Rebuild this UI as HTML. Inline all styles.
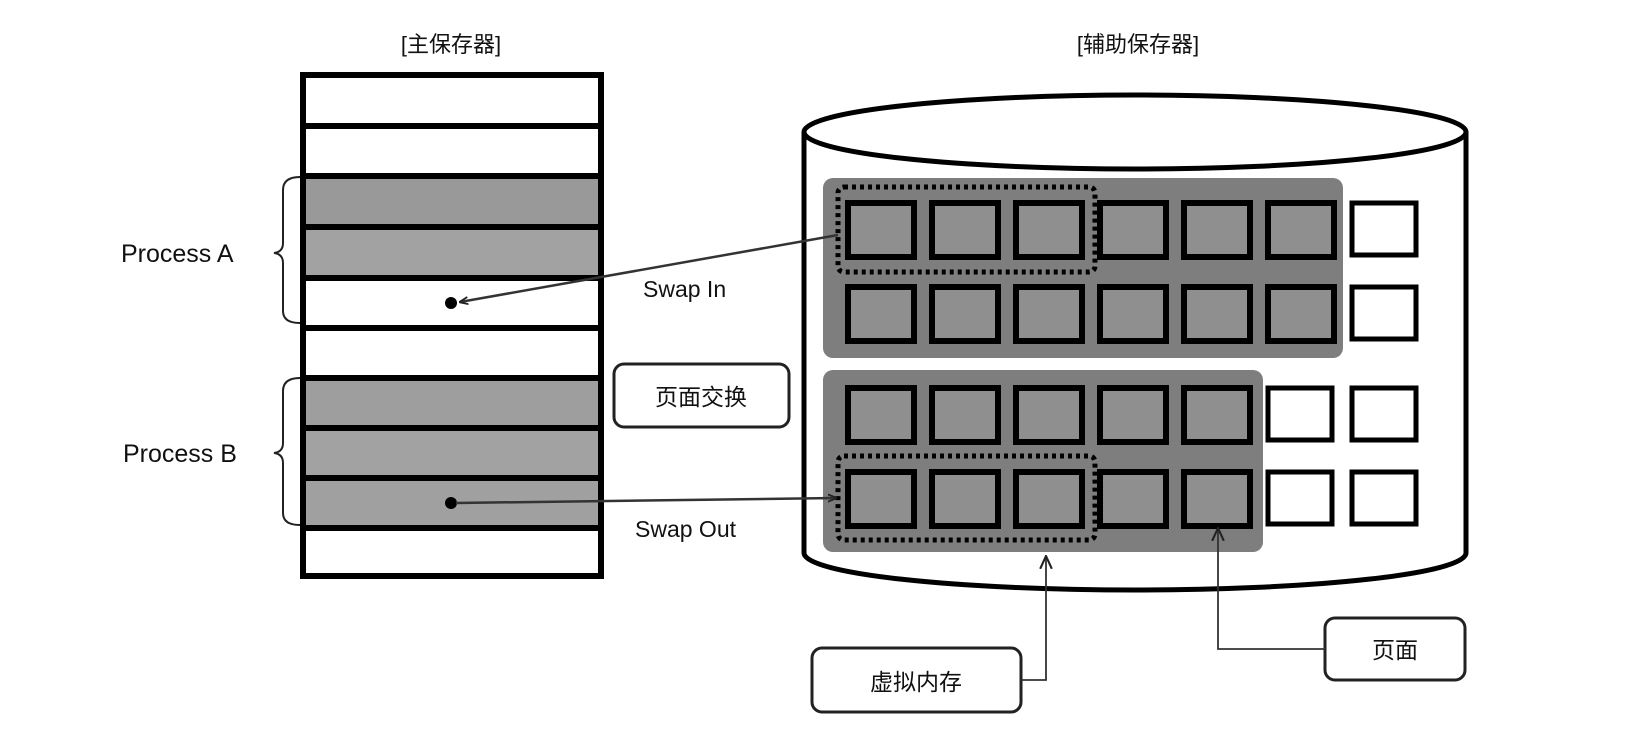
<!DOCTYPE html>
<html><head><meta charset="utf-8"><style>
html,body{margin:0;padding:0;background:#fff;}
svg{display:block;}
text{font-family:"Liberation Sans","Noto Sans CJK SC",sans-serif;fill:#111;}
</style></head><body>
<svg width="1644" height="736" viewBox="0 0 1644 736" xmlns="http://www.w3.org/2000/svg">
<defs>
<marker id="ah" viewBox="0 0 10 10" refX="9" refY="5" markerWidth="9" markerHeight="9" orient="auto" markerUnits="userSpaceOnUse">
<path d="M0,1 L10,5 L0,9" fill="none" stroke="#222" stroke-width="2"/>
</marker>
<marker id="oh" viewBox="0 0 12 12" refX="11" refY="6" markerWidth="14" markerHeight="14" orient="auto" markerUnits="userSpaceOnUse">
<path d="M0,1 L11,6 L0,11" fill="none" stroke="#222" stroke-width="1.8"/>
</marker>
</defs>

<text x="451" y="52" font-size="22" text-anchor="middle">[主保存器]</text>
<text x="1138" y="52" font-size="22" text-anchor="middle">[辅助保存器]</text>

<!-- main memory stack -->
<g stroke="#000" stroke-width="6">
<rect x="303" y="75" width="298" height="51" fill="#fff"/>
<rect x="303" y="126" width="298" height="50" fill="#fff"/>
<rect x="303" y="176" width="298" height="51" fill="#999"/>
<rect x="303" y="227" width="298" height="51" fill="#a2a2a2"/>
<rect x="303" y="278" width="298" height="50" fill="#fff"/>
<rect x="303" y="328" width="298" height="50" fill="#fff"/>
<rect x="303" y="378" width="298" height="50" fill="#9e9e9e"/>
<rect x="303" y="428" width="298" height="50" fill="#a2a2a2"/>
<rect x="303" y="478" width="298" height="50" fill="#a0a0a0"/>
<rect x="303" y="528" width="298" height="48" fill="#fff"/>
</g>

<!-- braces -->
<path d="M300,177 Q283,177 283,190 L283,243 Q283,252 274,253 Q283,254 283,263 L283,311 Q283,323 300,323" fill="none" stroke="#222" stroke-width="2"/>
<path d="M300,378 Q283,378 283,391 L283,443 Q283,452 274,453 Q283,454 283,463 L283,513 Q283,525 300,525" fill="none" stroke="#222" stroke-width="2"/>
<text x="121" y="262" font-size="25">Process A</text>
<text x="123" y="462" font-size="25">Process B</text>

<!-- cylinder -->
<path d="M804,132 L804,553 A331,37 0 0 0 1466,553 L1466,132" fill="#fff" stroke="#000" stroke-width="5"/>
<ellipse cx="1135" cy="132" rx="331" ry="37" fill="#fff" stroke="#000" stroke-width="5"/>

<!-- gray regions -->
<rect x="823" y="178" width="520" height="180" rx="10" fill="#7e7e7e"/>
<rect x="823" y="370" width="440" height="182" rx="10" fill="#7e7e7e"/>

<!-- squares -->
<g stroke="#000" stroke-width="6" fill="#8f8f8f">
<rect x="848" y="203" width="66" height="54"/><rect x="932" y="203" width="66" height="54"/><rect x="1016" y="203" width="66" height="54"/><rect x="1100" y="203" width="66" height="54"/><rect x="1184" y="203" width="66" height="54"/><rect x="1268" y="203" width="66" height="54"/>
<rect x="848" y="287" width="66" height="54"/><rect x="932" y="287" width="66" height="54"/><rect x="1016" y="287" width="66" height="54"/><rect x="1100" y="287" width="66" height="54"/><rect x="1184" y="287" width="66" height="54"/><rect x="1268" y="287" width="66" height="54"/>
<rect x="848" y="388" width="66" height="54"/><rect x="932" y="388" width="66" height="54"/><rect x="1016" y="388" width="66" height="54"/><rect x="1100" y="388" width="66" height="54"/><rect x="1184" y="388" width="66" height="54"/>
<rect x="848" y="472" width="66" height="54"/><rect x="932" y="472" width="66" height="54"/><rect x="1016" y="472" width="66" height="54"/><rect x="1100" y="472" width="66" height="54"/><rect x="1184" y="472" width="66" height="54"/>
</g>
<g stroke="#000" stroke-width="5" fill="#fff">
<rect x="1352" y="203" width="64" height="52"/><rect x="1352" y="287" width="64" height="52"/>
<rect x="1268" y="388" width="64" height="52"/><rect x="1352" y="388" width="64" height="52"/>
<rect x="1268" y="472" width="64" height="52"/><rect x="1352" y="472" width="64" height="52"/>
</g>

<!-- dotted -->
<g fill="none" stroke="#000" stroke-width="5" stroke-dasharray="4,4">
<rect x="838" y="187" width="257" height="85" rx="6"/>
<rect x="838" y="456" width="257" height="84" rx="6"/>
</g>

<!-- swap arrows -->
<circle cx="451" cy="303" r="6" fill="#000"/>
<circle cx="451" cy="503" r="6" fill="#000"/>
<line x1="838" y1="235" x2="460" y2="302" stroke="#333" stroke-width="2.5" marker-end="url(#ah)"/>
<line x1="456" y1="503" x2="836" y2="498" stroke="#333" stroke-width="2.5" marker-end="url(#ah)"/>
<text x="643" y="297" font-size="23">Swap In</text>
<text x="635" y="537" font-size="23">Swap Out</text>

<!-- labels -->
<rect x="614" y="364" width="175" height="63" rx="10" fill="#fff" stroke="#222" stroke-width="3"/>
<text x="701" y="405" font-size="23" text-anchor="middle">页面交换</text>

<rect x="812" y="648" width="209" height="64" rx="10" fill="#fff" stroke="#222" stroke-width="3"/>
<text x="916" y="690" font-size="23" text-anchor="middle">虚拟内存</text>
<polyline points="1021,680 1046,680 1046,556" fill="none" stroke="#333" stroke-width="1.8" marker-end="url(#oh)"/>

<rect x="1325" y="618" width="140" height="62" rx="10" fill="#fff" stroke="#222" stroke-width="3"/>
<text x="1395" y="658" font-size="23" text-anchor="middle">页面</text>
<polyline points="1325,649 1218,649 1218,528" fill="none" stroke="#333" stroke-width="1.8" marker-end="url(#oh)"/>
</svg>
</body></html>
